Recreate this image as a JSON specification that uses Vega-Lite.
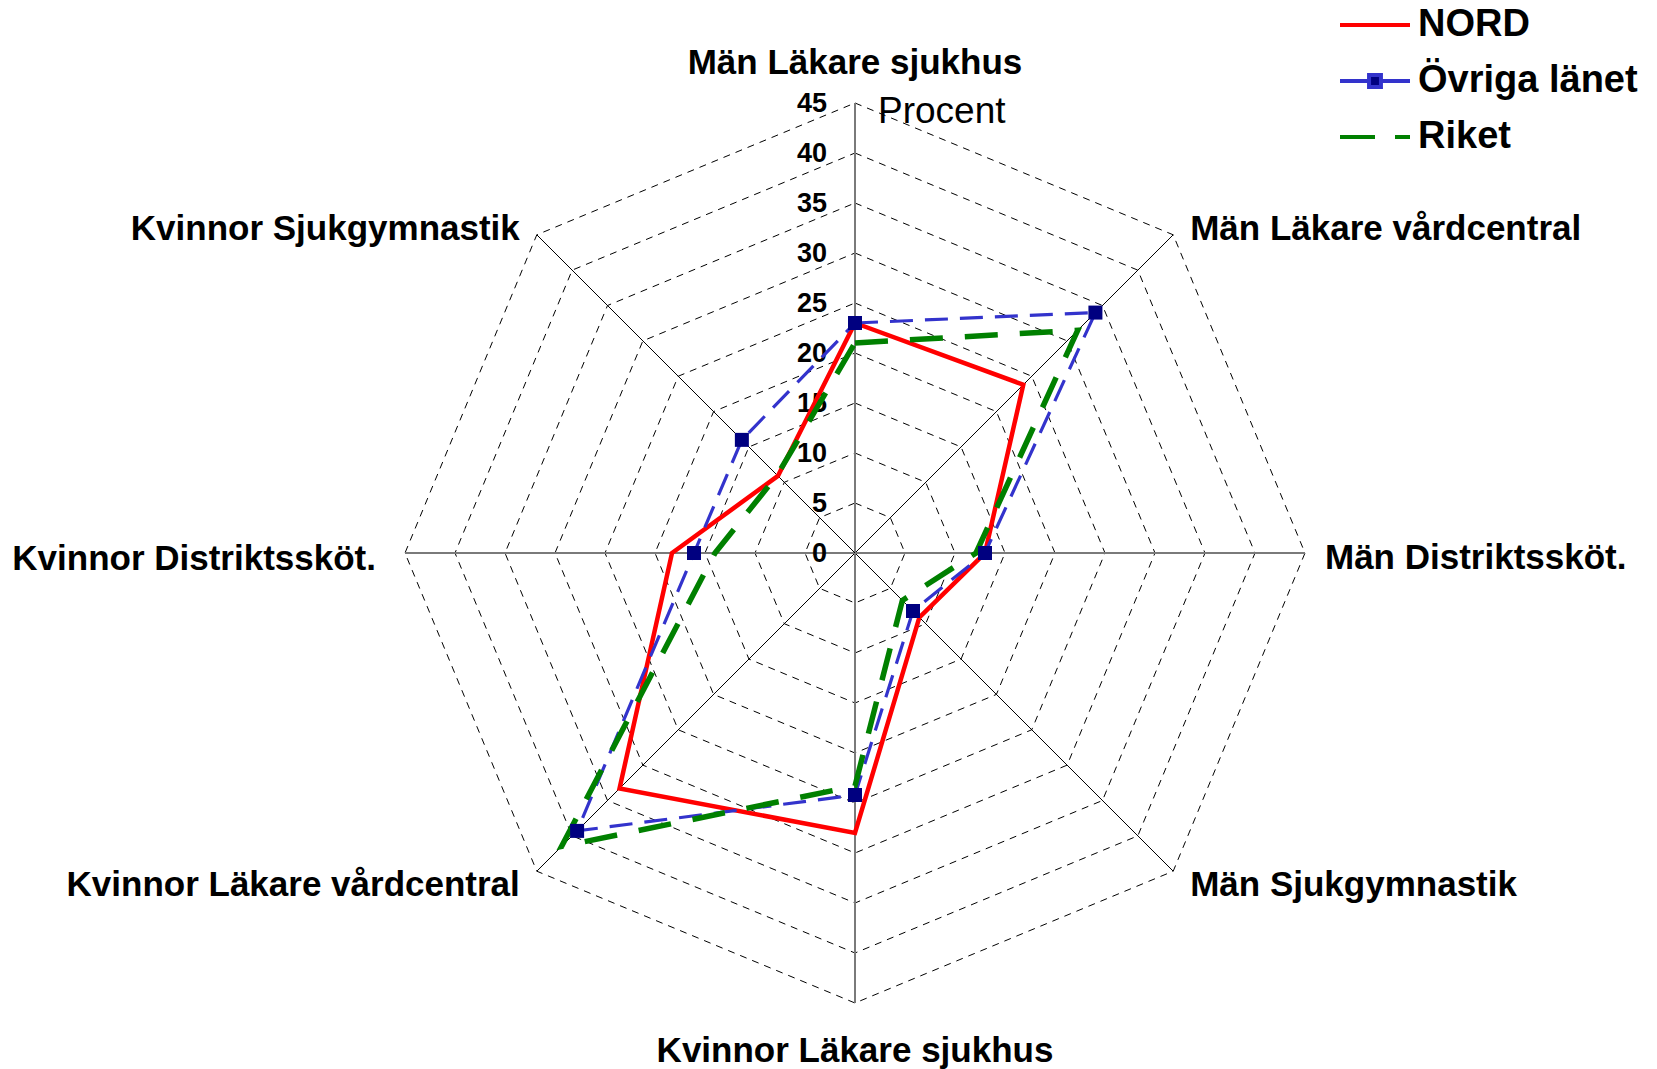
{
  "$schema": "https://vega.github.io/schema/vega-lite/v6.json",
  "width": 1657,
  "height": 1069,
  "autosize": "none",
  "padding": 0,
  "background": "white",
  "config": {"font": "Liberation Sans", "view": {"stroke": null}},
  "datasets": {
    "vals": [
      {"cat": "Män Läkare sjukhus", "idx": 0, "series": "NORD", "value": 23.0},
      {"cat": "Män Läkare vårdcentral", "idx": 1, "series": "NORD", "value": 23.8},
      {"cat": "Män Distriktssköt.", "idx": 2, "series": "NORD", "value": 13.0},
      {"cat": "Män Sjukgymnastik", "idx": 3, "series": "NORD", "value": 9.1},
      {"cat": "Kvinnor Läkare sjukhus", "idx": 4, "series": "NORD", "value": 28.0},
      {"cat": "Kvinnor Läkare vårdcentral", "idx": 5, "series": "NORD", "value": 33.3},
      {"cat": "Kvinnor Distriktssköt.", "idx": 6, "series": "NORD", "value": 18.3},
      {"cat": "Kvinnor Sjukgymnastik", "idx": 7, "series": "NORD", "value": 10.9},
      {"cat": "Män Läkare sjukhus", "idx": 0, "series": "Övriga länet", "value": 23.0},
      {"cat": "Män Läkare vårdcentral", "idx": 1, "series": "Övriga länet", "value": 34.0},
      {"cat": "Män Distriktssköt.", "idx": 2, "series": "Övriga länet", "value": 13.0},
      {"cat": "Män Sjukgymnastik", "idx": 3, "series": "Övriga länet", "value": 8.2},
      {"cat": "Kvinnor Läkare sjukhus", "idx": 4, "series": "Övriga länet", "value": 24.2},
      {"cat": "Kvinnor Läkare vårdcentral", "idx": 5, "series": "Övriga länet", "value": 39.3},
      {"cat": "Kvinnor Distriktssköt.", "idx": 6, "series": "Övriga länet", "value": 16.1},
      {"cat": "Kvinnor Sjukgymnastik", "idx": 7, "series": "Övriga länet", "value": 16.0},
      {"cat": "Män Läkare sjukhus", "idx": 0, "series": "Riket", "value": 21.0},
      {"cat": "Män Läkare vårdcentral", "idx": 1, "series": "Riket", "value": 31.5},
      {"cat": "Män Distriktssköt.", "idx": 2, "series": "Riket", "value": 12.1},
      {"cat": "Män Sjukgymnastik", "idx": 3, "series": "Riket", "value": 6.7},
      {"cat": "Kvinnor Läkare sjukhus", "idx": 4, "series": "Riket", "value": 23.3},
      {"cat": "Kvinnor Läkare vårdcentral", "idx": 5, "series": "Riket", "value": 41.5},
      {"cat": "Kvinnor Distriktssköt.", "idx": 6, "series": "Riket", "value": 14.0},
      {"cat": "Kvinnor Sjukgymnastik", "idx": 7, "series": "Riket", "value": 11.0}
    ],
    "axes": [
      {"cat": "Män Läkare sjukhus", "idx": 0},
      {"cat": "Män Läkare vårdcentral", "idx": 1},
      {"cat": "Män Distriktssköt.", "idx": 2},
      {"cat": "Män Sjukgymnastik", "idx": 3},
      {"cat": "Kvinnor Läkare sjukhus", "idx": 4},
      {"cat": "Kvinnor Läkare vårdcentral", "idx": 5},
      {"cat": "Kvinnor Distriktssköt.", "idx": 6},
      {"cat": "Kvinnor Sjukgymnastik", "idx": 7}
    ],
    "levels": [
      {"level": 0, "k": [0, 1, 2, 3, 4, 5, 6, 7]},
      {"level": 5, "k": [0, 1, 2, 3, 4, 5, 6, 7]},
      {"level": 10, "k": [0, 1, 2, 3, 4, 5, 6, 7]},
      {"level": 15, "k": [0, 1, 2, 3, 4, 5, 6, 7]},
      {"level": 20, "k": [0, 1, 2, 3, 4, 5, 6, 7]},
      {"level": 25, "k": [0, 1, 2, 3, 4, 5, 6, 7]},
      {"level": 30, "k": [0, 1, 2, 3, 4, 5, 6, 7]},
      {"level": 35, "k": [0, 1, 2, 3, 4, 5, 6, 7]},
      {"level": 40, "k": [0, 1, 2, 3, 4, 5, 6, 7]},
      {"level": 45, "k": [0, 1, 2, 3, 4, 5, 6, 7]}
    ]
  },
  "layer": [
    {
      "data": {"name": "levels"},
      "transform": [
        {"filter": "datum.level > 0"},
        {"flatten": ["k"]},
        {"calculate": "datum.level * sin(datum.k * PI / 4)", "as": "x"},
        {"calculate": "datum.level * cos(datum.k * PI / 4)", "as": "y"}
      ],
      "mark": {"type": "line", "interpolate": "linear-closed", "stroke": "#000000", "strokeWidth": 1, "strokeDash": [7, 6]},
      "encoding": {
        "x": {"field": "x", "type": "quantitative", "scale": {"domain": [-85.5, 80.2], "nice": false, "zero": false}, "axis": null},
        "y": {"field": "y", "type": "quantitative", "scale": {"domain": [-51.6, 55.3], "nice": false, "zero": false}, "axis": null},
        "detail": {"field": "level"},
        "order": {"field": "k", "type": "quantitative"}
      }
    },
    {
      "data": {"name": "axes"},
      "transform": [
        {"calculate": "45 * sin(datum.idx * PI / 4)", "as": "x"},
        {"calculate": "45 * cos(datum.idx * PI / 4)", "as": "y"}
      ],
      "mark": {"type": "rule"},
      "encoding": {
        "x": {"field": "x", "type": "quantitative", "scale": {"domain": [-85.5, 80.2], "nice": false, "zero": false}, "axis": null},
        "y": {"field": "y", "type": "quantitative", "scale": {"domain": [-51.6, 55.3], "nice": false, "zero": false}, "axis": null},
        "x2": {"datum": 0},
        "y2": {"datum": 0},
        "color": {"condition": {"test": "datum.idx % 2 == 0", "value": "#7a7a7a"}, "value": "#000000"},
        "strokeWidth": {"condition": {"test": "datum.idx % 2 == 0", "value": 2}, "value": 1}
      }
    },
    {
      "data": {"name": "levels"},
      "mark": {"type": "text", "align": "right", "baseline": "middle", "dx": -28, "dy": 1, "fontSize": 27, "fontWeight": "bold", "color": "#000000"},
      "encoding": {
        "x": {"datum": 0, "type": "quantitative"},
        "y": {"field": "level", "type": "quantitative"},
        "text": {"field": "level", "type": "quantitative"}
      }
    },
    {
      "data": {"name": "vals"},
      "transform": [
        {"calculate": "datum.value * sin(datum.idx * PI / 4)", "as": "x"},
        {"calculate": "datum.value * cos(datum.idx * PI / 4)", "as": "y"}
      ],
      "encoding": {
        "x": {"field": "x", "type": "quantitative"},
        "y": {"field": "y", "type": "quantitative"},
        "order": {"field": "idx", "type": "quantitative"},
        "color": {
          "field": "series", "type": "nominal",
          "scale": {"domain": ["NORD", "Övriga länet", "Riket"], "range": ["#ff0000", "#3333cc", "#008000"]},
          "legend": {
            "title": null,
            "orient": "none",
            "legendX": 1338,
            "legendY": -12,
            "padding": 0,
            "symbolType": "stroke",
            "symbolSize": 4900,
            "symbolStrokeWidth": 4,
            "labelFontSize": 38,
            "labelFontWeight": "bold",
            "labelFont": "Liberation Sans",
            "labelColor": "#000000",
            "labelOffset": 6,
            "labelLimit": 400,
            "rowPadding": -21,
            "encode": {
              "symbols": {
                "update": {
                  "shape": {"signal": "datum.value === 'Övriga länet' ? 'M-1,0H-0.17M0.17,0H1M-0.17,-0.17H0.17V0.17H-0.17Z' : 'stroke'"},
                  "fill": {"signal": "datum.value === 'Övriga länet' ? '#000080' : 'transparent'"},
                  "strokeDash": {"signal": "datum.value === 'Riket' ? [35, 20] : [1, 0]"}
                }
              }
            }
          }
        }
      },
      "layer": [
        {
          "transform": [{"filter": "datum.series === 'NORD'"}],
          "mark": {"type": "line", "interpolate": "linear-closed", "strokeWidth": 4.5}
        },
        {
          "transform": [{"filter": "datum.series === 'Övriga länet'"}],
          "mark": {"type": "line", "interpolate": "linear-closed", "strokeWidth": 3.2, "strokeDash": [23, 12]}
        },
        {
          "transform": [{"filter": "datum.series === 'Riket'"}],
          "mark": {"type": "line", "interpolate": "linear-closed", "strokeWidth": 5.5, "strokeDash": [33, 22]}
        }
      ]
    },
    {
      "data": {"name": "vals"},
      "transform": [
        {"filter": "datum.series === 'Övriga länet'"},
        {"calculate": "datum.value * sin(datum.idx * PI / 4)", "as": "x"},
        {"calculate": "datum.value * cos(datum.idx * PI / 4)", "as": "y"}
      ],
      "mark": {"type": "square", "size": 196, "filled": true, "color": "#000080", "opacity": 1},
      "encoding": {
        "x": {"field": "x", "type": "quantitative"},
        "y": {"field": "y", "type": "quantitative"}
      }
    },
    {
      "data": {"name": "axes"},
      "transform": [
        {"filter": "datum.idx % 4 == 0"},
        {"calculate": "45 * sin(datum.idx * PI / 4)", "as": "lx"},
        {"calculate": "45 * cos(datum.idx * PI / 4) + (datum.idx == 0 ? 4.0 : -4.8)", "as": "ly"}
      ],
      "mark": {"type": "text", "align": "center", "baseline": "middle", "fontSize": 35, "fontWeight": "bold", "color": "#000000"},
      "encoding": {
        "x": {"field": "lx", "type": "quantitative"},
        "y": {"field": "ly", "type": "quantitative"},
        "text": {"field": "cat"}
      }
    },
    {
      "data": {"name": "axes"},
      "transform": [
        {"filter": "datum.idx >= 1 && datum.idx <= 3"},
        {"calculate": "45 * sin(datum.idx * PI / 4) + (datum.idx == 2 ? 2.0 : 1.7)", "as": "lx"},
        {"calculate": "45 * cos(datum.idx * PI / 4) + (datum.idx == 1 ? 0.6 : datum.idx == 3 ? -1.4 : -0.5)", "as": "ly"}
      ],
      "mark": {"type": "text", "align": "left", "baseline": "middle", "fontSize": 35, "fontWeight": "bold", "color": "#000000"},
      "encoding": {
        "x": {"field": "lx", "type": "quantitative"},
        "y": {"field": "ly", "type": "quantitative"},
        "text": {"field": "cat"}
      }
    },
    {
      "data": {"name": "axes"},
      "transform": [
        {"filter": "datum.idx >= 5 && datum.idx <= 7"},
        {"calculate": "45 * sin(datum.idx * PI / 4) - (datum.idx == 6 ? 2.9 : 1.7)", "as": "lx"},
        {"calculate": "45 * cos(datum.idx * PI / 4) + (datum.idx == 7 ? 0.6 : datum.idx == 5 ? -1.4 : -0.6)", "as": "ly"}
      ],
      "mark": {"type": "text", "align": "right", "baseline": "middle", "fontSize": 35, "fontWeight": "bold", "color": "#000000"},
      "encoding": {
        "x": {"field": "lx", "type": "quantitative"},
        "y": {"field": "ly", "type": "quantitative"},
        "text": {"field": "cat"}
      }
    },
    {
      "data": {"values": [{"t": "Procent"}]},
      "mark": {"type": "text", "align": "left", "baseline": "alphabetic", "fontSize": 37, "color": "#000000"},
      "encoding": {
        "x": {"datum": 2.3, "type": "quantitative"},
        "y": {"datum": 43.0, "type": "quantitative"},
        "text": {"field": "t"}
      }
    }
  ]
}
